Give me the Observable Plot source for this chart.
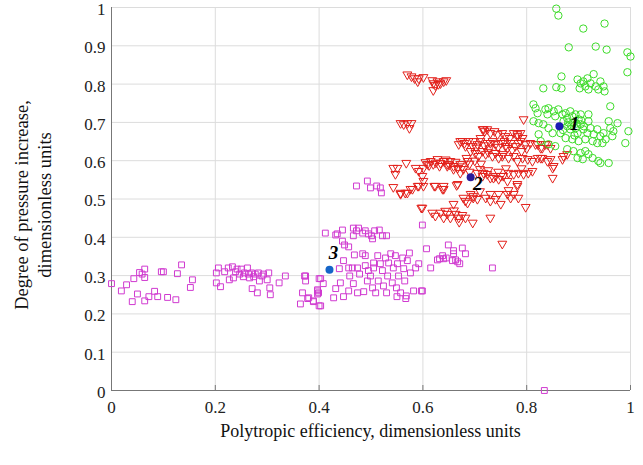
<!DOCTYPE html>
<html>
<head>
<meta charset="utf-8">
<script src="https://cdn.jsdelivr.net/npm/d3@7"></script>
<script src="https://cdn.jsdelivr.net/npm/@observablehq/plot@0.6"></script>
<style>
  html, body { margin: 0; padding: 0; background: #fff; }
  #chart { width: 643px; height: 465px; }
  svg { font-family: "Liberation Serif", "Times New Roman", serif; }
</style>
</head>
<body>
<div id="chart"></div>
<script>
// Series 3 (magenta squares): [efficiency, pressure increase]
const magenta = [
  [0.0,0.279],[0.019,0.26],[0.029,0.276],[0.040,0.232],[0.043,0.292],[0.050,0.252],[0.054,0.308],[0.059,0.304],
  [0.064,0.317],[0.064,0.295],[0.064,0.234],[0.072,0.245],[0.083,0.259],[0.089,0.245],[0.096,0.31],[0.100,0.31],
  [0.108,0.243],[0.124,0.237],[0.127,0.305],[0.135,0.328],[0.152,0.269],[0.156,0.289],
  [0.202,0.307],[0.202,0.281],[0.206,0.32],[0.21,0.271],[0.218,0.31],[0.225,0.32],[0.227,0.289],[0.233,0.323],
  [0.235,0.294],[0.239,0.31],[0.242,0.317],[0.247,0.304],[0.25,0.317],[0.254,0.297],[0.256,0.307],[0.262,0.32],
  [0.264,0.304],[0.266,0.294],[0.27,0.307],[0.271,0.266],[0.274,0.297],[0.277,0.304],[0.281,0.255],[0.283,0.307],
  [0.285,0.286],[0.29,0.299],[0.293,0.304],[0.3,0.289],[0.303,0.307],[0.305,0.268],[0.306,0.25],[0.323,0.281],
  [0.335,0.299],[0.372,0.299],[0.374,0.286],[0.368,0.255],[0.364,0.226],[0.378,0.24],[0.389,0.232],[0.397,0.26],
  [0.397,0.252],[0.40,0.221],[0.40,0.292],
  [0.412,0.411],[0.432,0.406],[0.435,0.409],[0.445,0.419],[0.445,0.39],[0.449,0.38],[0.457,0.375],[0.466,0.424],
  [0.466,0.404],[0.472,0.417],[0.476,0.424],[0.484,0.411],[0.489,0.417],[0.495,0.409],[0.501,0.404],[0.503,0.396],
  [0.507,0.417],[0.516,0.419],[0.522,0.404],[0.53,0.404],[0.599,0.432],
  [0.374,0.299],[0.403,0.292],[0.408,0.279],[0.397,0.263],[0.399,0.255],[0.38,0.242],[0.389,0.234],[0.403,0.221],
  [0.428,0.242],[0.432,0.266],[0.441,0.281],[0.439,0.318],[0.447,0.339],[0.447,0.245],[0.457,0.32],[0.459,0.299],
  [0.457,0.26],[0.464,0.32],[0.466,0.279],[0.468,0.354],[0.474,0.255],[0.474,0.32],[0.478,0.304],[0.484,0.357],
  [0.486,0.258],[0.489,0.352],[0.489,0.326],[0.493,0.286],[0.495,0.313],[0.499,0.299],[0.503,0.268],[0.505,0.333],
  [0.505,0.32],[0.509,0.255],[0.513,0.352],[0.514,0.286],[0.518,0.331],[0.522,0.313],[0.524,0.273],[0.528,0.346],
  [0.53,0.255],[0.532,0.299],[0.534,0.333],[0.538,0.357],[0.541,0.281],[0.543,0.32],[0.547,0.352],[0.549,0.268],
  [0.551,0.331],[0.553,0.299],[0.557,0.255],[0.561,0.346],[0.563,0.318],[0.565,0.286],[0.568,0.247],[0.57,0.339],
  [0.574,0.359],[0.576,0.307],[0.582,0.26],[0.586,0.32],[0.592,0.331],[0.597,0.26],[0.567,0.24],[0.55,0.245],
  [0.472,0.534],[0.493,0.547],[0.499,0.529],[0.511,0.534],[0.518,0.529],[0.52,0.516],
  [0.607,0.37],[0.615,0.32],[0.628,0.341],[0.632,0.344],[0.638,0.352],[0.64,0.344],[0.645,0.346],[0.649,0.38],
  [0.657,0.339],[0.659,0.357],[0.659,0.365],[0.663,0.341],[0.667,0.336],[0.671,0.331],[0.676,0.372],[0.682,0.357],
  [0.734,0.32],[0.599,0.26],[0.834,0.0]
];

// Series 2 (red down-triangles)
const red = [
  [0.570,0.825],[0.578,0.82],[0.584,0.815],[0.59,0.807],[0.592,0.815],[0.601,0.818],[0.618,0.81],[0.62,0.802],
  [0.624,0.797],[0.628,0.807],[0.634,0.802],[0.64,0.807],[0.645,0.81],[0.62,0.784],[0.63,0.8],
  [0.557,0.698],[0.563,0.695],[0.57,0.698],[0.574,0.685],[0.578,0.698],[0.794,0.708],
  [0.715,0.682],[0.719,0.677],[0.724,0.682],[0.730,0.672],[0.738,0.677],[0.744,0.669],[0.753,0.672],[0.759,0.664],
  [0.767,0.659],[0.775,0.672],[0.782,0.664],[0.788,0.672],[0.792,0.659],
  [0.672,0.651],[0.680,0.646],[0.688,0.651],[0.696,0.638],[0.705,0.643],[0.711,0.651],[0.724,0.646],[0.734,0.651],
  [0.74,0.643],[0.750,0.646],[0.759,0.638],[0.769,0.646],[0.778,0.638],[0.784,0.646],[0.798,0.643],[0.807,0.646],
  [0.821,0.643],[0.830,0.633],[0.840,0.643],[0.846,0.633],
  [0.692,0.625],[0.701,0.62],[0.707,0.612],[0.715,0.625],[0.721,0.617],[0.726,0.622],[0.734,0.612],[0.740,0.62],
  [0.746,0.607],[0.755,0.617],[0.765,0.607],[0.775,0.612],[0.782,0.599],[0.792,0.607],[0.802,0.604],[0.811,0.599],
  [0.821,0.607],[0.830,0.607],[0.840,0.599],[0.850,0.581],[0.850,0.555],[0.871,0.612],
  [0.609,0.591],[0.615,0.599],[0.620,0.591],[0.628,0.604],[0.634,0.594],[0.640,0.599],[0.647,0.591],[0.653,0.599],
  [0.659,0.586],[0.667,0.581],[0.672,0.591],[0.678,0.578],[0.686,0.599],[0.601,0.581],[0.592,0.573],[0.586,0.581],
  [0.568,0.594],[0.551,0.581],[0.543,0.581],[0.547,0.565],[0.599,0.56],[0.601,0.547],
  [0.543,0.531],[0.557,0.513],[0.566,0.516],[0.576,0.526],[0.59,0.534],[0.624,0.534],[0.638,0.526],[0.665,0.536],
  [0.705,0.568],[0.715,0.56],[0.724,0.565],[0.730,0.555],[0.740,0.56],[0.746,0.552],[0.755,0.56],[0.765,0.568],
  [0.775,0.565],[0.784,0.568],[0.794,0.565],[0.803,0.568],[0.782,0.539],[0.765,0.523],[0.775,0.513],
  [0.692,0.513],[0.697,0.503],[0.705,0.5],[0.721,0.503],[0.730,0.495],[0.746,0.513],[0.750,0.487],[0.769,0.503],
  [0.784,0.503],[0.798,0.479],[0.678,0.503],[0.686,0.49],
  [0.599,0.477],[0.618,0.464],[0.624,0.456],[0.634,0.464],[0.640,0.451],[0.647,0.461],[0.653,0.451],[0.663,0.461],
  [0.669,0.451],[0.676,0.458],[0.682,0.451],[0.696,0.438],[0.730,0.451],[0.753,0.383],
  [0.557,0.516],[0.57,0.516],[0.58,0.526],[0.592,0.534],[0.601,0.534],[0.622,0.534],[0.640,0.534],[0.667,0.539],
  [0.597,0.477],
  [0.878,0.617],[0.869,0.604],[0.846,0.604],[0.827,0.633],[0.817,0.643],[0.836,0.643],[0.811,0.573],
  [0.717,0.682],[0.711,0.659],[0.697,0.651],[0.676,0.651],[0.669,0.643],[0.682,0.638],[0.730,0.646],[0.753,0.612],
  [0.763,0.633],[0.782,0.669],[0.788,0.651],[0.827,0.607],[0.852,0.586],[0.647,0.586],[0.659,0.578],[0.672,0.568],
  [0.64,0.526],[0.717,0.568],[0.736,0.555],[0.75,0.56],[0.763,0.547],[0.782,0.534],[0.763,0.513],[0.730,0.513],
  [0.697,0.508],[0.682,0.495],[0.659,0.487],[0.643,0.469],
  [0.605,0.596],[0.612,0.588],[0.625,0.595],[0.632,0.586],[0.644,0.603],[0.651,0.590],[0.663,0.597],[0.676,0.585],
  [0.684,0.607],[0.69,0.592],[0.70,0.60],[0.712,0.592],[0.703,0.634],[0.718,0.640],[0.728,0.632],[0.745,0.636],
  [0.757,0.651],[0.772,0.628],[0.79,0.625],[0.80,0.632],[0.69,0.571],[0.71,0.578],[0.726,0.575],[0.745,0.571],
  [0.76,0.58],[0.79,0.58],[0.66,0.47],[0.67,0.44],[0.71,0.52],[0.74,0.50]
];

// Series 1 (green circles)
const green = [
  [0.857,0.997],[0.861,0.979],[0.909,0.945],[0.950,0.958],[0.881,0.896],[0.933,0.898],[0.954,0.89],[0.994,0.883],
  [1.0,0.872],[0.994,0.831],[0.867,0.82],[0.832,0.789],[0.857,0.792],[0.867,0.789],
  [0.898,0.812],[0.904,0.802],[0.902,0.789],[0.909,0.807],[0.913,0.794],[0.917,0.815],[0.919,0.786],[0.923,0.802],
  [0.929,0.826],[0.933,0.794],[0.938,0.786],[0.942,0.807],[0.948,0.794],[0.950,0.781],[0.961,0.742],
  [0.813,0.747],[0.817,0.737],[0.821,0.724],[0.836,0.734],[0.842,0.737],[0.840,0.721],[0.852,0.729],[0.855,0.716],
  [0.861,0.734],[0.869,0.721],[0.875,0.724],[0.878,0.711],[0.884,0.729],[0.888,0.716],[0.894,0.721],[0.9,0.708],
  [0.904,0.721],[0.919,0.721],[0.919,0.703],
  [0.813,0.703],[0.823,0.698],[0.832,0.695],[0.823,0.669],[0.842,0.685],[0.850,0.672],[0.871,0.703],[0.878,0.69],
  [0.884,0.682],[0.894,0.685],[0.898,0.672],[0.904,0.695],[0.909,0.682],[0.917,0.672],[0.923,0.685],[0.929,0.669],
  [0.936,0.682],[0.942,0.664],[0.948,0.672],[0.952,0.656],[0.958,0.703],[0.961,0.685],[0.967,0.677],[0.975,0.698],
  [0.965,0.664],[0.996,0.677],[0.990,0.646],
  [0.865,0.672],[0.875,0.659],[0.888,0.656],[0.9,0.651],[0.913,0.656],[0.927,0.651],[0.936,0.646],
  [0.878,0.630],[0.890,0.625],[0.904,0.62],[0.913,0.625],[0.919,0.617],[0.927,0.607],[0.938,0.599],[0.942,0.594],
  [0.958,0.594],[0.898,0.607],[0.908,0.604],[0.855,0.638],[0.842,0.643],[0.827,0.651],[0.946,0.646],
  [0.88,0.70],[0.89,0.70],[0.886,0.692],[0.896,0.697],[0.905,0.705],[0.91,0.69],[0.87,0.68],[0.892,0.666]
];

// Reference points and their labels
const refX = [0.863, 0.692, 0.42];
const refY = [0.69, 0.557, 0.315];
const refLabel = ["1", "2", "3"];
const refColor = ["#1a1ab4", "#2a1a9a", "#1565c8"];

const xTicks = [0, 0.2, 0.4, 0.6, 0.8, 1];
const yTicks = [0, 0.1, 0.2, 0.3, 0.4, 0.5, 0.6, 0.7, 0.8, 0.9, 1];
const xTitle = "Polytropic efficiency, dimensionless units";
const yTitle1 = "Degree of pressure increase,";
const yTitle2 = "dimensionless units";

const refs = refX.map((x, i) => ({x, y: refY[i], label: refLabel[i], color: refColor[i]}));

const chart = Plot.plot({
  width: 643,
  height: 465,
  marginLeft: 111,
  marginRight: 13,
  marginTop: 7,
  marginBottom: 75,
  style: {fontFamily: "'Liberation Serif', 'Times New Roman', serif", fontSize: "17px", background: "#fff", color: "#222"},
  x: {domain: [0, 1]},
  y: {domain: [0, 1]},
  marks: [
    Plot.gridX(xTicks, {stroke: "#dcdcdc", strokeOpacity: 1}),
    Plot.gridY(yTicks, {stroke: "#dcdcdc", strokeOpacity: 1}),
    Plot.axisX(xTicks, {tickSize: -5, tickPadding: 15, tickFormat: d => String(d), label: null, stroke: "#777", fill: "#222", fontSize: 17}),
    Plot.axisY(yTicks, {tickSize: 0, tickPadding: 6, dy: 2, tickFormat: d => String(d), label: null, fill: "#222", fontSize: 17}),
    Plot.ruleX([0], {stroke: "#777"}),
    Plot.ruleY([0], {stroke: "#777"}),
    Plot.dot(magenta, {x: d => d[0], y: d => d[1], symbol: "square", r: 3.3, fill: "none", stroke: "#d03ad0", strokeWidth: 1}),
    Plot.dot(red, {x: d => d[0], y: d => d[1], symbol: "triangle", rotate: 180, r: 3.3, fill: "none", stroke: "#e3201b", strokeWidth: 1}),
    Plot.dot(green, {x: d => d[0], y: d => d[1], symbol: "circle", r: 3.7, fill: "none", stroke: "#3edc2a", strokeWidth: 1}),
    Plot.dot(refs, {x: "x", y: "y", r: 4, fill: "color", stroke: "none"}),
    Plot.text(refs.filter(d => d.label === "1"), {x: "x", y: "y", text: "label", dx: 15, dy: -2, fontSize: 19, fontWeight: "bold", fontStyle: "italic", fill: "#000"}),
    Plot.text(refs.filter(d => d.label === "2"), {x: "x", y: "y", text: "label", dx: 7, dy: 7, fontSize: 19, fontWeight: "bold", fontStyle: "italic", fill: "#000"}),
    Plot.text(refs.filter(d => d.label === "3"), {x: "x", y: "y", text: "label", dx: 4, dy: -17, fontSize: 19, fontWeight: "bold", fontStyle: "italic", fill: "#000"})
  ]
});

const svg = d3.select(chart);
svg.append("text")
  .attr("x", (111 + 630) / 2).attr("y", 437)
  .attr("text-anchor", "middle")
  .attr("font-size", 18).attr("fill", "#111")
  .text(xTitle);
const yt = svg.append("text")
  .attr("transform", "translate(0,205) rotate(-90)")
  .attr("text-anchor", "middle")
  .attr("font-size", 18.5).attr("fill", "#111");
yt.append("tspan").attr("x", 0).attr("y", 28).text(yTitle1);
yt.append("tspan").attr("x", 0).attr("y", 51).text(yTitle2);

document.getElementById("chart").appendChild(chart);
</script>
</body>
</html>
